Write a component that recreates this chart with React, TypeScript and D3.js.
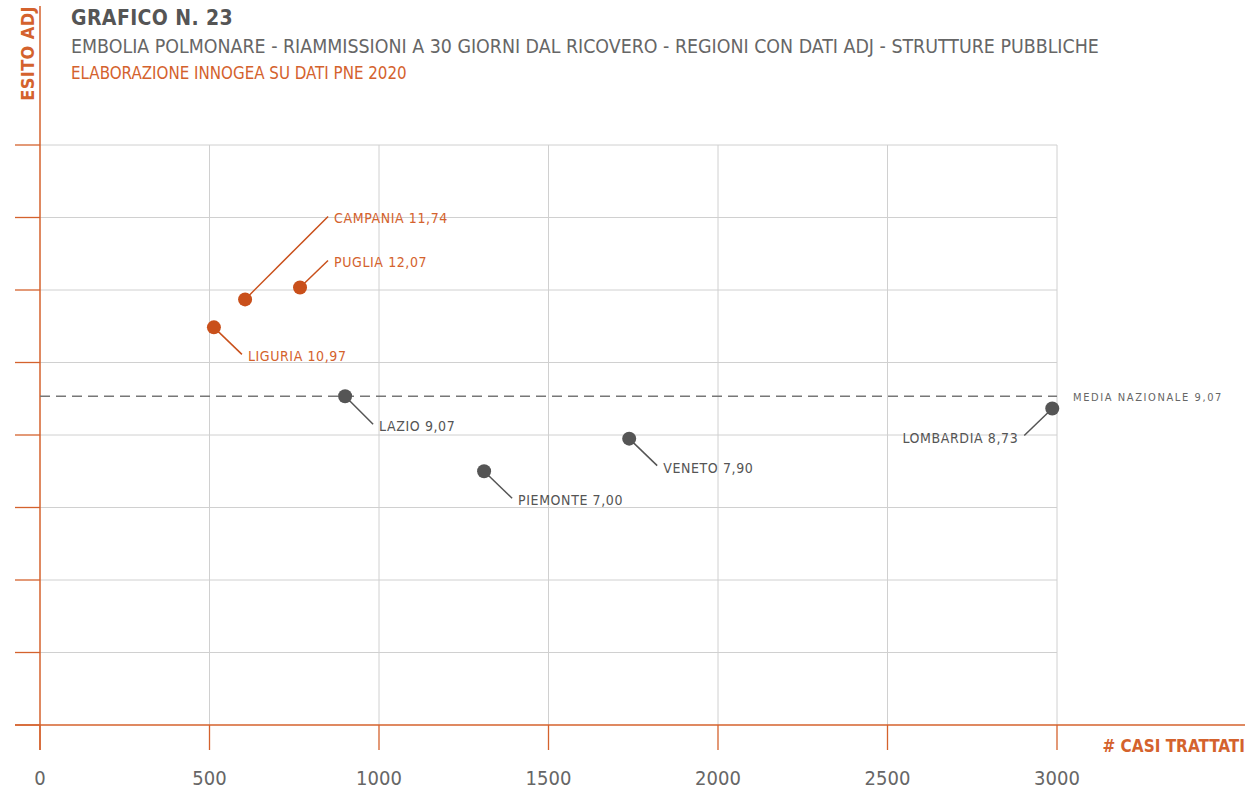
import React from 'react';
import * as d3 from 'd3';

// Data
const regions = ['LIGURIA', 'CAMPANIA', 'PUGLIA', 'LAZIO', 'PIEMONTE', 'VENETO', 'LOMBARDIA'];
const casiTrattati = [513, 605, 767, 900, 1310, 1738, 2986];
const esitoAdj = [10.97, 11.74, 12.07, 9.07, 7.0, 7.9, 8.73];
const aboveAverage = [true, true, true, false, false, false, false];
const mediaNazionale = 9.07;
const xTicks = [0, 500, 1000, 1500, 2000, 2500, 3000];
const yTicks = [0, 2, 4, 6, 8, 10, 12, 14, 16];

// Leader line ends (pixel offsets from the dot) and label anchor
const leaders: { dx: number; dy: number; anchor: 'start' | 'end' }[] = [
  { dx: 28, dy: 27, anchor: 'start' },
  { dx: 83, dy: -83, anchor: 'start' },
  { dx: 28, dy: -27, anchor: 'start' },
  { dx: 28, dy: 28, anchor: 'start' },
  { dx: 28, dy: 27, anchor: 'start' },
  { dx: 28, dy: 27, anchor: 'start' },
  { dx: -28, dy: 27, anchor: 'end' },
];

const W = 1247;
const H = 793;
const ORANGE = '#d4622d';
const DOT_ORANGE = '#c9501b';
const GRAY = '#555555';
const FONT = '"Liberation Sans Narrow", "DejaVu Sans Condensed", "Open Sans", sans-serif';

const fmt = (v: number) => v.toFixed(2).replace('.', ',');

export default function App() {
  const x = d3.scaleLinear().domain([0, 3000]).range([40, 1057]);
  const y = d3.scaleLinear().domain([0, 16]).range([725, 145]);

  return (
    <svg
      width={W}
      height={H}
      style={{ position: 'absolute', left: 0, top: 0, background: '#fff' }}
      fontFamily={FONT}
    >
      {/* grid */}
      {yTicks.slice(1).map((t) => (
        <line key={'gy' + t} x1={x(0)} x2={x(3000)} y1={y(t)} y2={y(t)} stroke="#d0d0d0" strokeWidth={1} />
      ))}
      {xTicks.slice(1).map((t) => (
        <line key={'gx' + t} x1={x(t)} x2={x(t)} y1={y(16)} y2={y(0)} stroke="#d0d0d0" strokeWidth={1} />
      ))}

      {/* y ticks */}
      {yTicks.map((t) => (
        <line key={'ty' + t} x1={15} x2={x(0)} y1={y(t)} y2={y(t)} stroke={ORANGE} strokeWidth={1.3} />
      ))}
      {/* x ticks */}
      {xTicks.map((t) => (
        <line key={'tx' + t} x1={x(t)} x2={x(t)} y1={y(0)} y2={y(0) + 25} stroke={ORANGE} strokeWidth={1.3} />
      ))}

      {/* axes */}
      <line x1={x(0)} x2={x(0)} y1={6} y2={y(0) + 25} stroke={ORANGE} strokeWidth={1.5} />
      <line x1={15} x2={1245} y1={y(0)} y2={y(0)} stroke={ORANGE} strokeWidth={1.5} />

      {/* x tick labels */}
      {xTicks.map((t) => (
        <text key={'lx' + t} x={x(t)} y={785} textAnchor="middle" fontSize={20} fill="#666">
          {t}
        </text>
      ))}

      {/* axis titles */}
      <text
        transform={`translate(34,6) rotate(-90)`}
        textAnchor="end"
        fontSize={18}
        fontWeight="bold"
        fill={ORANGE}
        letterSpacing={0.4}
      >
        ESITO ADJ
      </text>
      <text x={1245} y={752} textAnchor="end" fontSize={17} fontWeight="bold" fill={ORANGE}>
        # CASI TRATTATI
      </text>

      {/* titles */}
      <text x={71} y={25} fontSize={21} fontWeight="bold" fill={GRAY} letterSpacing={0.4}>
        GRAFICO N. 23
      </text>
      <text x={71} y={53} fontSize={19.4} fill="#666">
        EMBOLIA POLMONARE - RIAMMISSIONI A 30 GIORNI DAL RICOVERO - REGIONI CON DATI ADJ - STRUTTURE PUBBLICHE
      </text>
      <text x={71} y={79} fontSize={16.8} fill={ORANGE}>
        ELABORAZIONE INNOGEA SU DATI PNE 2020
      </text>

      {/* national average */}
      <line
        x1={x(0)}
        x2={x(3000)}
        y1={y(mediaNazionale)}
        y2={y(mediaNazionale)}
        stroke="#777"
        strokeWidth={1.5}
        strokeDasharray="10 6"
      />
      <text x={1073} y={y(mediaNazionale) + 5} fontSize={11} fill="#666" letterSpacing={1.6}>
        MEDIA NAZIONALE {fmt(mediaNazionale)}
      </text>

      {/* points */}
      {regions.map((r, i) => {
        const cx = x(casiTrattati[i]);
        const cy = y(esitoAdj[i]);
        const color = aboveAverage[i] ? DOT_ORANGE : GRAY;
        const textColor = aboveAverage[i] ? ORANGE : GRAY;
        const l = leaders[i];
        const ex = cx + l.dx;
        const ey = cy + l.dy;
        return (
          <g key={r}>
            <line x1={cx} y1={cy} x2={ex} y2={ey} stroke={color} strokeWidth={1.5} />
            <circle cx={cx} cy={cy} r={7} fill={color} />
            <text
              x={l.anchor === 'start' ? ex + 6 : ex - 6}
              y={ey + 7}
              textAnchor={l.anchor}
              fontSize={14}
              fill={textColor}
              letterSpacing={0.6}
            >
              {r} {fmt(esitoAdj[i])}
            </text>
          </g>
        );
      })}
    </svg>
  );
}
